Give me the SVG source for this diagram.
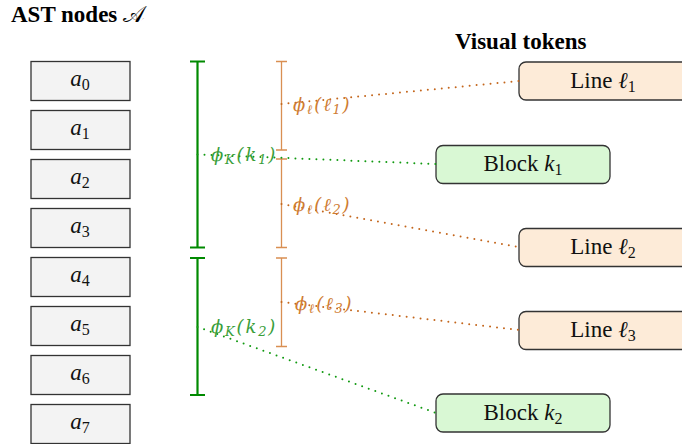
<svg xmlns="http://www.w3.org/2000/svg" width="682" height="444" viewBox="0 0 682 444">
  <defs>
    <style>
      .title { font-family: "Liberation Serif", "DejaVu Serif", serif; font-weight: bold; font-size: 23px; fill: #000; }
      .ast rect { fill: #f3f3f3; stroke: #333; stroke-width: 1.3; }
      .lbl { font-family: "Liberation Serif", "DejaVu Serif", serif; font-size: 23px; fill: #111; }
      .it { font-style: italic; }
      .sub { font-size: 16px; }
      .line rect { fill: #fdebd8; stroke: #333; stroke-width: 1.3; }
      .block rect { fill: #d9f8d4; stroke: #333; stroke-width: 1.3; }
      .brk-k { stroke: #008a00; stroke-width: 2.2; fill: none; }
      .brk-l { stroke: #d98f52; stroke-width: 1.3; fill: none; }
      .dot-k { stroke: #119a11; stroke-width: 2; stroke-linecap: round; stroke-dasharray: 0 7; fill: none; }
      .dot-l { stroke: #c4661c; stroke-width: 2; stroke-linecap: round; stroke-dasharray: 0 7; fill: none; }
      .math { font-family: "DejaVu Serif", "Liberation Serif", serif; font-style: italic; font-size: 18px; letter-spacing: 1.8px; }
      .math-k { fill: #3a9e3a; }
      .math-l { fill: #cf7c32; }
      .msub { font-size: 13px; }
    </style>
  </defs>

  <!-- headings -->
  <text class="title" x="11" y="22">AST nodes <tspan font-weight="normal" font-family="DejaVu Serif, serif">𝒜</tspan></text>
  <text class="title" x="455" y="49">Visual tokens</text>

  <!-- AST node column -->
  <g id="a0" class="ast"><rect x="31" y="61.5" width="99" height="39"/><text class="lbl" x="80" y="86" text-anchor="middle"><tspan class="it">a</tspan><tspan class="sub" dy="4">0</tspan></text></g>
  <g id="a1" class="ast"><rect x="31" y="110.5" width="99" height="39"/><text class="lbl" x="80" y="135" text-anchor="middle"><tspan class="it">a</tspan><tspan class="sub" dy="4">1</tspan></text></g>
  <g id="a2" class="ast"><rect x="31" y="159.5" width="99" height="39"/><text class="lbl" x="80" y="184" text-anchor="middle"><tspan class="it">a</tspan><tspan class="sub" dy="4">2</tspan></text></g>
  <g id="a3" class="ast"><rect x="31" y="208.5" width="99" height="39"/><text class="lbl" x="80" y="233" text-anchor="middle"><tspan class="it">a</tspan><tspan class="sub" dy="4">3</tspan></text></g>
  <g id="a4" class="ast"><rect x="31" y="257.5" width="99" height="39"/><text class="lbl" x="80" y="282" text-anchor="middle"><tspan class="it">a</tspan><tspan class="sub" dy="4">4</tspan></text></g>
  <g id="a5" class="ast"><rect x="31" y="306.5" width="99" height="39"/><text class="lbl" x="80" y="331" text-anchor="middle"><tspan class="it">a</tspan><tspan class="sub" dy="4">5</tspan></text></g>
  <g id="a6" class="ast"><rect x="31" y="355.5" width="99" height="39"/><text class="lbl" x="80" y="380" text-anchor="middle"><tspan class="it">a</tspan><tspan class="sub" dy="4">6</tspan></text></g>
  <g id="a7" class="ast"><rect x="31" y="404.5" width="99" height="39"/><text class="lbl" x="80" y="429" text-anchor="middle"><tspan class="it">a</tspan><tspan class="sub" dy="4">7</tspan></text></g>

  <!-- block spans (green) -->
  <g id="span-k1"><path class="brk-k" d="M190 61.5 H205 M197.5 61.5 V247.5 M190 247.5 H205"/></g>
  <g id="span-k2"><path class="brk-k" d="M190 258 H205 M197.5 258 V395 M190 395 H205"/></g>

  <!-- line spans (orange) -->
  <g id="span-l1"><path class="brk-l" d="M276 61.5 H287 M281.5 61.5 V150 M276 150 H287"/></g>
  <g id="span-l2"><path class="brk-l" d="M276 159 H287 M281.5 159 V247.5 M276 247.5 H287"/></g>
  <g id="span-l3"><path class="brk-l" d="M276 258 H287 M281.5 258 V346.5 M276 346.5 H287"/></g>

  <!-- visual tokens -->
  <g id="line1" class="line"><rect x="519" y="62" width="175" height="38" rx="7"/><text class="lbl" x="603" y="88" text-anchor="middle">Line <tspan class="it">ℓ</tspan><tspan class="sub" dy="4">1</tspan></text></g>
  <g id="block1" class="block"><rect x="436" y="145.5" width="174" height="38" rx="7"/><text class="lbl" x="523" y="171" text-anchor="middle">Block <tspan class="it">k</tspan><tspan class="sub" dy="4">1</tspan></text></g>
  <g id="line2" class="line"><rect x="519" y="228.5" width="175" height="38" rx="7"/><text class="lbl" x="603" y="254" text-anchor="middle">Line <tspan class="it">ℓ</tspan><tspan class="sub" dy="4">2</tspan></text></g>
  <g id="line3" class="line"><rect x="519" y="311.5" width="175" height="38" rx="7"/><text class="lbl" x="603" y="337" text-anchor="middle">Line <tspan class="it">ℓ</tspan><tspan class="sub" dy="4">3</tspan></text></g>
  <g id="block2" class="block"><rect x="436" y="394" width="174" height="38" rx="7"/><text class="lbl" x="523" y="420" text-anchor="middle">Block <tspan class="it">k</tspan><tspan class="sub" dy="4">2</tspan></text></g>

  <!-- mapping connectors -->
  <g id="connectors">
    <path class="dot-k" d="M197.5 154.5 L436 164"/>
    <path class="dot-l" d="M281.5 104 L519 81"/>
    <path class="dot-l" d="M281.5 204 L519 247"/>
    <path class="dot-l" d="M281.5 302 L519 330"/>
    <path class="dot-k" d="M197.5 327 L436 413"/>
    <text class="math math-k" x="211" y="161">ϕ<tspan class="msub" dy="3">K</tspan><tspan dy="-3">(</tspan>k<tspan class="msub" dy="3">1</tspan><tspan dy="-3">)</tspan></text>
    <text class="math math-l" x="293" y="111">ϕ<tspan class="msub" dy="3">ℓ</tspan><tspan dy="-3">(</tspan>ℓ<tspan class="msub" dy="3">1</tspan><tspan dy="-3">)</tspan></text>
    <text class="math math-l" x="293" y="211">ϕ<tspan class="msub" dy="3">ℓ</tspan><tspan dy="-3">(</tspan>ℓ<tspan class="msub" dy="3">2</tspan><tspan dy="-3">)</tspan></text>
    <text class="math math-l" x="295" y="310">ϕ<tspan class="msub" dy="3">ℓ</tspan><tspan dy="-3">(</tspan>ℓ<tspan class="msub" dy="3">3</tspan><tspan dy="-3">)</tspan></text>
    <text class="math math-k" x="211" y="333">ϕ<tspan class="msub" dy="3">K</tspan><tspan dy="-3">(</tspan>k<tspan class="msub" dy="3">2</tspan><tspan dy="-3">)</tspan></text>
  </g>
</svg>
